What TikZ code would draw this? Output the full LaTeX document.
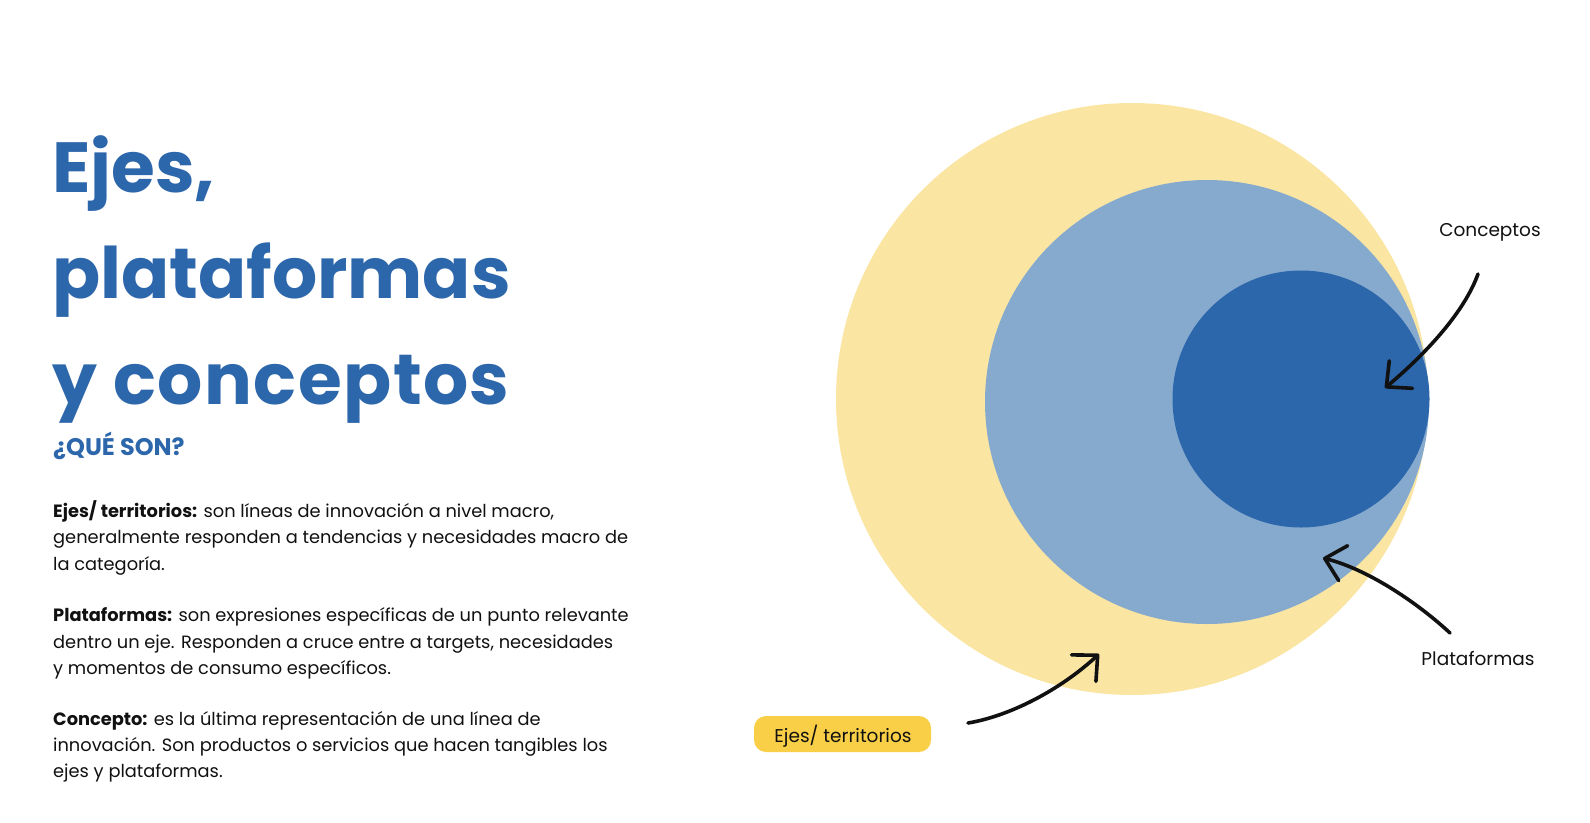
\documentclass[tikz,border=0pt]{standalone}
\usepackage{fontspec}
\setmainfont{Poppins}
\usetikzlibrary{arrows.meta}
\definecolor{ejesY}{HTML}{FAE5A3}
\definecolor{platB}{HTML}{86AACE}
\definecolor{concB}{HTML}{2C66AB}
\definecolor{tagY}{HTML}{F8CF47}
\definecolor{ink}{HTML}{111111}
\begin{document}
\begin{tikzpicture}[x=1pt,y=-1pt,
  disc/.style={circle,inner sep=0pt,outer sep=0pt},
  titletxt/.style={anchor=base west,inner sep=0pt,text=concB,font=\fontsize{71}{71}\selectfont\bfseries},
  subtxt/.style={anchor=base west,inner sep=0pt,text=concB,font=\fontsize{24}{24}\selectfont\bfseries},
  bodytxt/.style={anchor=base west,inner sep=0pt,text=ink,font=\fontsize{17.8}{17.8}\selectfont},
  lbl/.style={anchor=base,inner sep=0pt,text=ink,font=\fontsize{18.5}{18.5}\selectfont},
  tag/.style={rounded corners=12pt,fill=tagY,minimum width=177pt,minimum height=36pt,inner sep=0pt},
  hand/.style={line width=3.6pt,line cap=round,line join=round,ink,-{Straight Barb[length=19pt,width=36pt,round]}}
]
\useasboundingbox (0,0) rectangle (1590,822);
\fill[white] (0,0) rectangle (1590,822);

% circles
\node[disc,fill=ejesY,minimum size=592pt] (ejes) at (1132,399) {};
\node[disc,fill=platB,minimum size=444pt] (plat) at (1207,402) {};
\node[disc,fill=concB,minimum size=257pt] (conc) at (1301,399) {};

% title
\node[titletxt] (t1) at (52,192) {Ejes,};
\node[titletxt] (t2) at (52,298) {plataformas};
\node[titletxt] (t3) at (52,404) {\addfontfeature{LetterSpace=2}y conceptos};
\node[subtxt] (sub) at (53,455) {¿QUÉ SON?};

% body
\node[bodytxt] (b11) at (53,517.3) {\textbf{Ejes/ territorios:} son líneas de innovación a nivel macro,};
\node[bodytxt] (b12) at (53,543.7) {generalmente responden a tendencias y necesidades macro de};
\node[bodytxt] (b13) at (53,570.1) {la categoría.};
\node[bodytxt] (b21) at (53,621.7) {\textbf{Plataformas:} son expresiones específicas de un punto relevante};
\node[bodytxt] (b22) at (53,648.1) {dentro un eje. Responden a cruce entre a targets, necesidades};
\node[bodytxt] (b23) at (53,674.5) {y momentos de consumo específicos.};
\node[bodytxt] (b31) at (53,725.0) {\textbf{Concepto:} es la última representación de una línea de};
\node[bodytxt] (b32) at (53,751.4) {innovación. Son productos o servicios que hacen tangibles los};
\node[bodytxt] (b33) at (53,777.8) {ejes y plataformas.};

% labels
\node[lbl] (lconc) at (1490,236.5) {Conceptos};
\node[lbl] (lplat) at (1478,665) {Plataformas};
\node[tag] (ltag) at (842.5,734) {};
\node[lbl] (lejes) at (843,742) {Ejes/ territorios};

% arrows
\coordinate (c0) at (1478,274);
\coordinate (c1) at (1385,388);
\coordinate (p0) at (1450,633);
\coordinate (p1) at (1323,558);
\coordinate (e0) at (968,723);
\coordinate (e1) at (1099,654);
\draw[hand] (c0) .. controls (1465,310) and (1430,350) .. (c1);
\draw[hand] (p0) .. controls (1420,605) and (1370,570) .. (p1);
\draw[hand] (e0) .. controls (1010,716) and (1060,690) .. (e1);
\end{tikzpicture}
\end{document}
